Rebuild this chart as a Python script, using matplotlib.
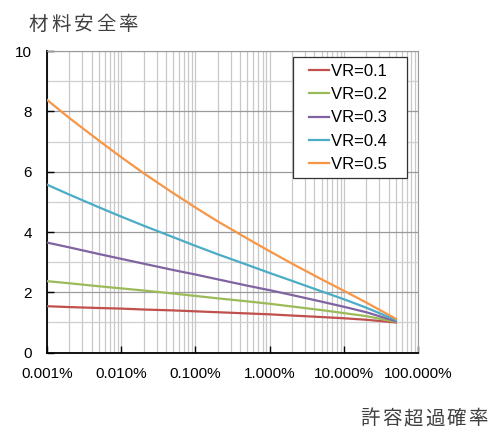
import numpy as np
import matplotlib.pyplot as plt
from matplotlib.lines import Line2D
from matplotlib.legend_handler import HandlerBase
from matplotlib.ticker import LogLocator, FixedLocator, FuncFormatter

plt.rcParams['font.family'] = ['Noto Sans CJK JP', 'DejaVu Sans']

# allowable exceedance probability (%)
prob = [0.001, 0.002, 0.005, 0.01, 0.02, 0.05, 0.1, 0.2, 0.5, 1, 2, 5, 10, 20, 50]

# material safety factor
vr01 = [1.54, 1.51, 1.48, 1.46, 1.43, 1.40, 1.37, 1.34, 1.30, 1.27, 1.23, 1.18, 1.14, 1.09, 1.00]
vr02 = [2.37, 2.30, 2.20, 2.13, 2.06, 1.96, 1.88, 1.80, 1.70, 1.62, 1.53, 1.41, 1.31, 1.21, 1.02]
vr03 = [3.65, 3.49, 3.27, 3.11, 2.95, 2.74, 2.59, 2.43, 2.22, 2.07, 1.91, 1.69, 1.52, 1.34, 1.04]
vr04 = [5.57, 5.24, 4.82, 4.51, 4.21, 3.83, 3.54, 3.26, 2.91, 2.64, 2.38, 2.03, 1.77, 1.49, 1.08]
vr05 = [8.38, 7.78, 7.03, 6.48, 5.95, 5.29, 4.81, 4.35, 3.78, 3.36, 2.95, 2.43, 2.05, 1.66, 1.12]

series = [vr01, vr02, vr03, vr04, vr05]
labels = ['VR=0.1', 'VR=0.2', 'VR=0.3', 'VR=0.4', 'VR=0.5']
colors = ['#C0504D', '#9BBB59', '#8064A2', '#4BACC6', '#F79646']

W, H = 492, 429


class ShortLine(HandlerBase):
    # legend line drawn only in the right part of the handle box
    def create_artists(self, legend, orig_handle, xdescent, ydescent,
                       width, height, fontsize, trans):
        y = (height - ydescent) / 2
        x0 = -xdescent + width * 0.34
        ln = Line2D([x0, -xdescent + width], [y, y],
                    color=orig_handle.get_color(),
                    linewidth=orig_handle.get_linewidth(), transform=trans)
        return [ln]


def spaced_text(fig, s, first_center, baseline, pitch, size=14):
    # axis titles in the original have wide letter spacing
    for i, ch in enumerate(s):
        fig.text((first_center + i * pitch) / W, 1 - baseline / H, ch,
                 fontsize=size, color='#404040', ha='center', va='baseline')


fig = plt.figure(figsize=(W / 100, H / 100), dpi=100)
ax = fig.add_axes([0.0955, 0.178, 0.7545, 0.703])

for vals, lab, col in zip(series, labels, colors):
    ax.plot(prob, vals, color=col, linewidth=1.6, label=lab + '   ', zorder=3)

ax.set_xscale('log')
ax.set_xlim(0.001, 100)
ax.set_ylim(0, 10)

# grid
ax.xaxis.set_major_locator(LogLocator(base=10, numticks=10))
ax.xaxis.set_minor_locator(LogLocator(base=10, subs=np.arange(2, 10), numticks=10))
ax.yaxis.set_major_locator(FixedLocator([0, 2, 4, 6, 8, 10]))
ax.yaxis.set_minor_locator(FixedLocator([1, 3, 5, 7, 9]))
ax.grid(True, which='major', axis='y', color='#9a9a9a', linewidth=0.9)
ax.grid(True, which='minor', axis='y', color='#cfcfcf', linewidth=0.9)
ax.grid(True, which='both', axis='x', color='#c8c8c8', linewidth=0.9)
ax.set_axisbelow(True)

ax.xaxis.set_major_formatter(FuncFormatter(lambda v, p: f'{v:.3f}%'))
ax.tick_params(which='major', direction='in', length=5, width=1, color='black',
               labelsize=11)
ax.tick_params(axis='x', which='major', pad=10)
ax.tick_params(axis='y', which='major', pad=11)
ax.tick_params(which='minor', length=0)
for t in ax.get_xticklabels() + ax.get_yticklabels():
    t.set_fontfamily(['Liberation Sans', 'DejaVu Sans'])

ax.spines['left'].set_color('black')
ax.spines['left'].set_linewidth(1.3)
ax.spines['bottom'].set_color('black')
ax.spines['bottom'].set_linewidth(1.3)
ax.spines['top'].set_color('#9a9a9a')
ax.spines['right'].set_color('#9a9a9a')

leg = ax.legend(loc='upper right', bbox_to_anchor=(0.97, 0.979), borderaxespad=0,
                fancybox=False, framealpha=1, edgecolor='#333333',
                handler_map={Line2D: ShortLine()},
                handlelength=1.81, handletextpad=0.1, labelspacing=0.5,
                borderpad=0.38, prop={'family': ['Liberation Sans', 'DejaVu Sans'], 'size': 12})
leg.get_frame().set_linewidth(0.9)

spaced_text(fig, '材料安全率', 38.5, 30, 22.4)
spaced_text(fig, '許容超過確率', 370, 424.5, 21.6)

fig.savefig('out.png', dpi=100)
